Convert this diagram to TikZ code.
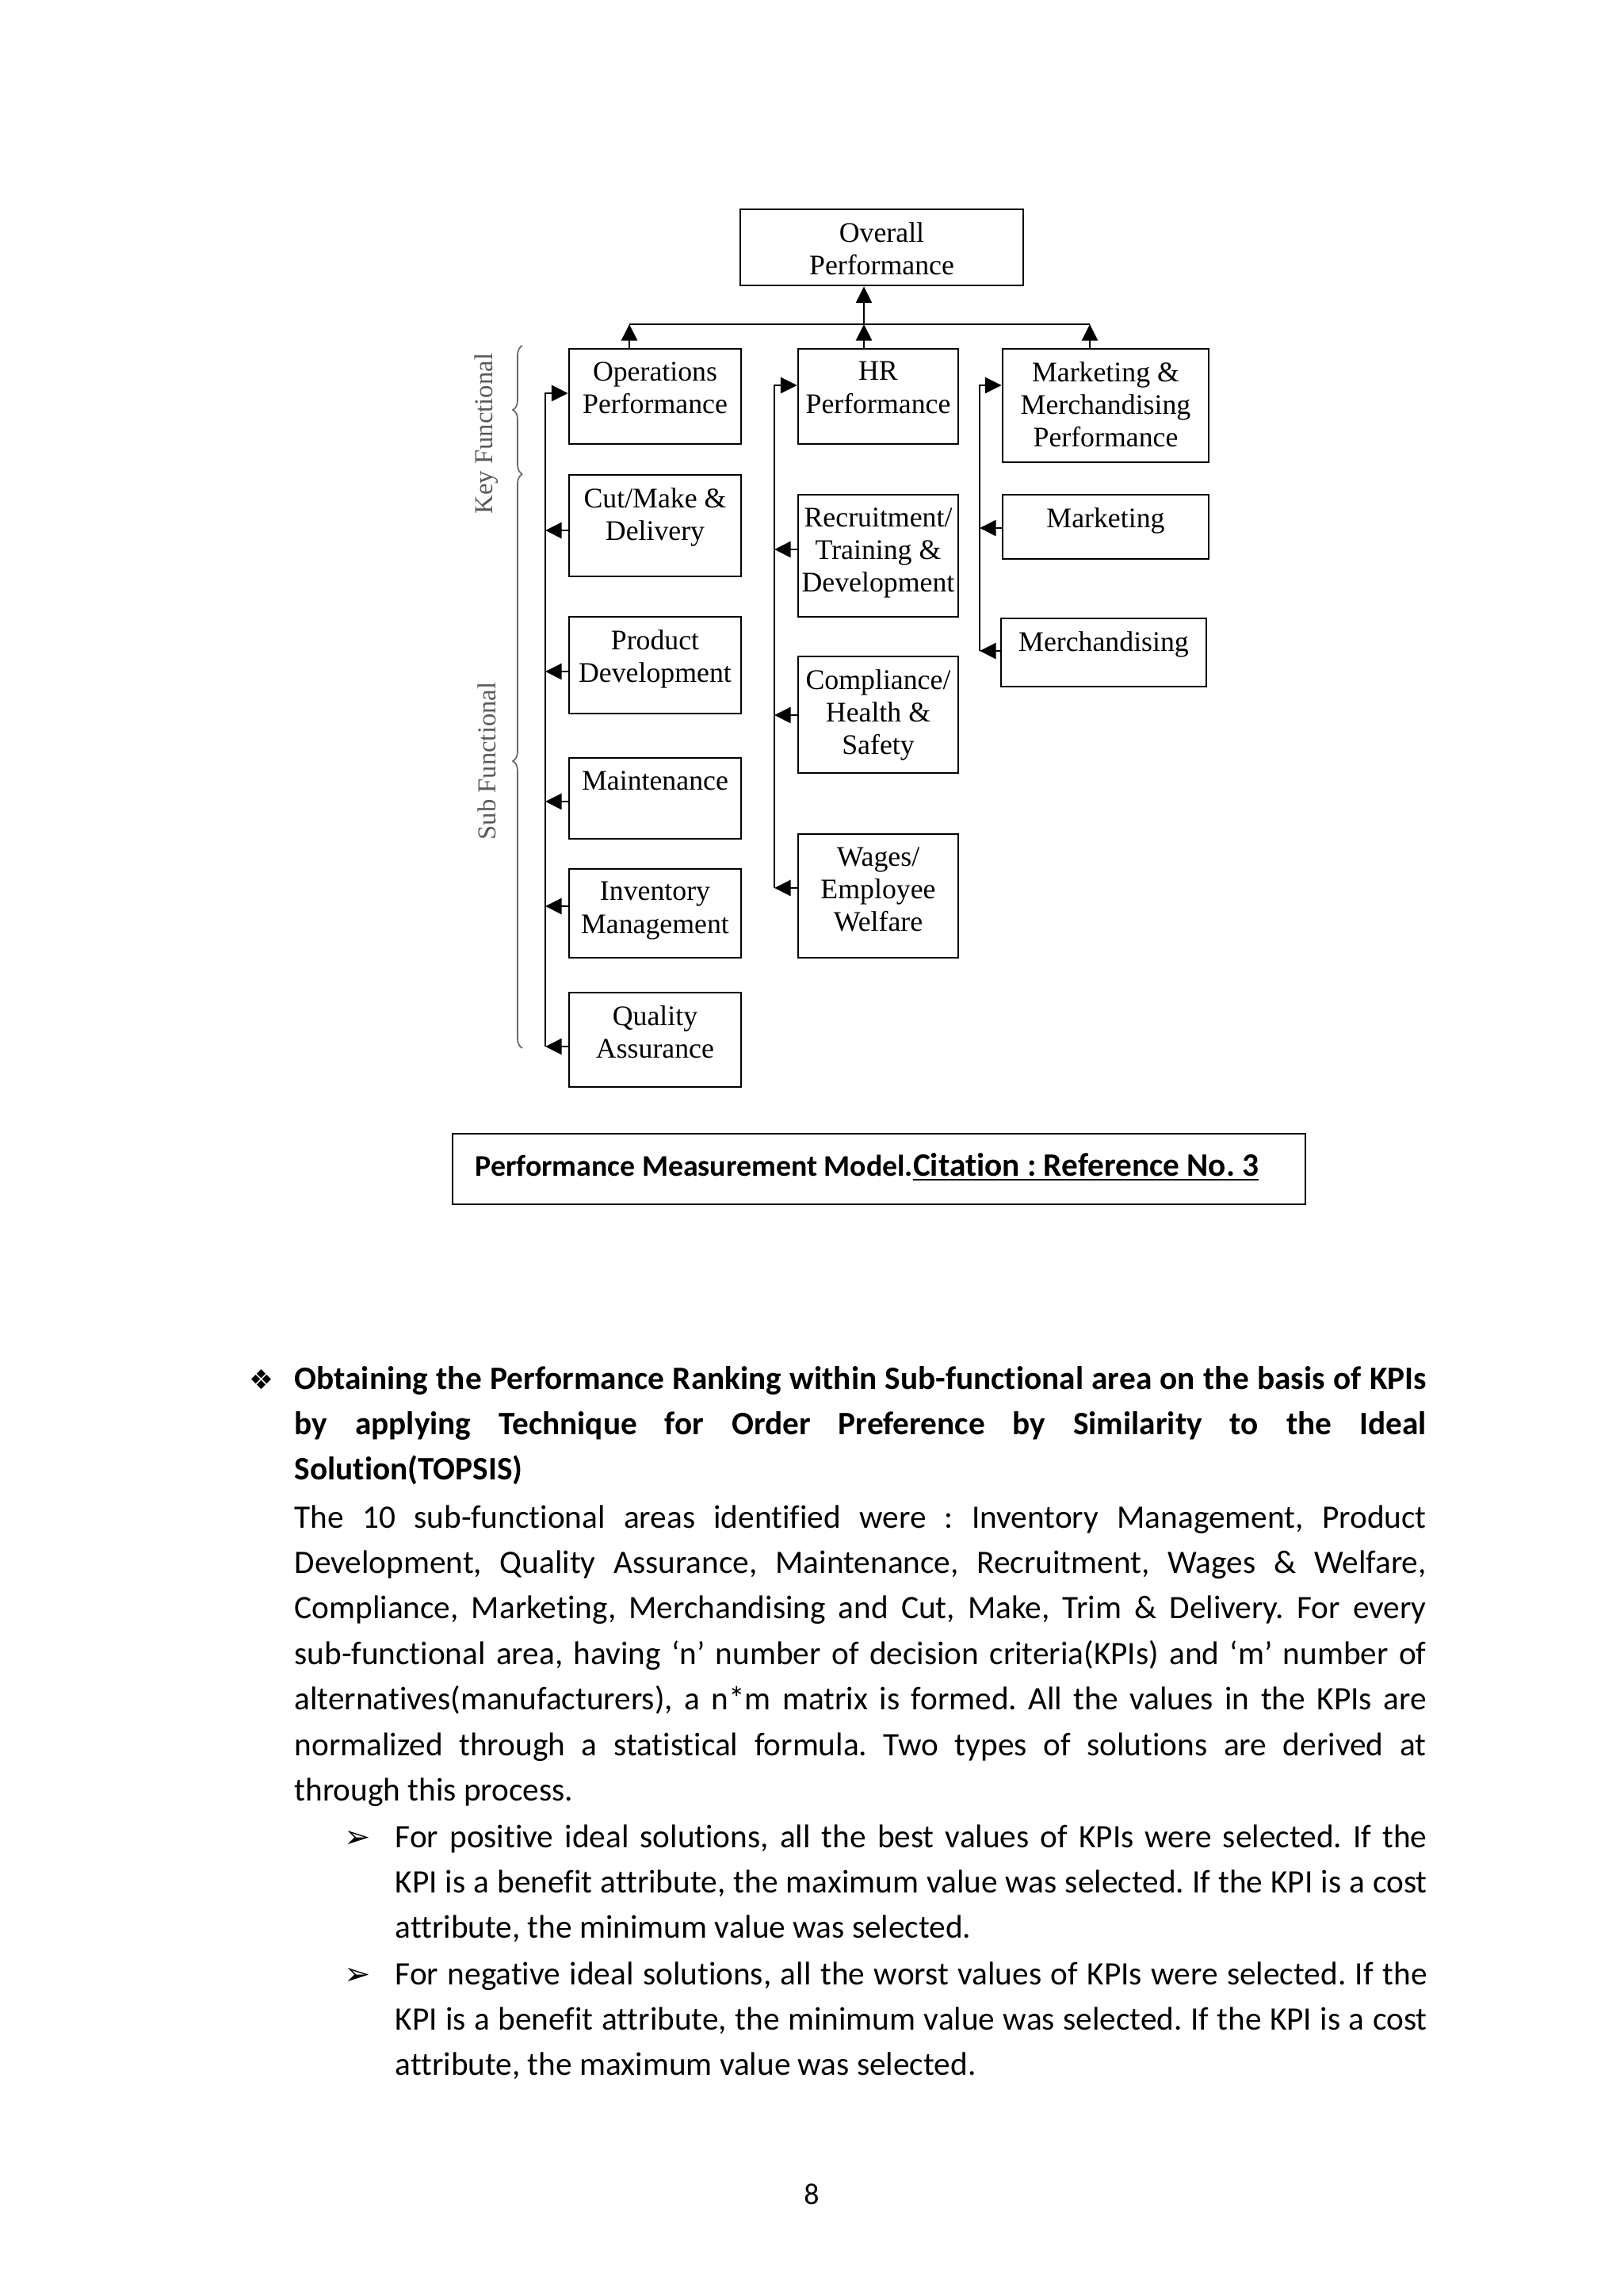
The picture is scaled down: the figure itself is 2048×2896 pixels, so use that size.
\documentclass[tikz,border=0pt]{standalone}
\usepackage{fontspec}
\setmainfont{Carlito}[Ligatures={NoCommon}]
\newfontfamily\tnr{Liberation Serif}[Ligatures={NoCommon}]
\newfontfamily\djv{DejaVu Sans}
\usetikzlibrary{arrows.meta,fit,decorations.pathreplacing,calc}
\newdimen\px \px=0.29066pt
\frenchspacing
\begin{document}
\begin{tikzpicture}[x=0.29066pt,y=-0.29066pt,
  box/.style={draw, line width=0.8pt, inner sep=0pt},
  lbl/.style={font=\tnr\fontsize{10.4pt}{12pt}\selectfont, align=center, inner sep=0pt, anchor=north},
  arr/.style={line width=0.8pt, -{Triangle[length=6pt,width=5.8pt]}},
  ln/.style={line width=0.8pt},
  side/.style={font=\tnr\fontsize{9.5pt}{11pt}\selectfont, text=black!65, inner sep=0pt, rotate=90},
  brc/.style={draw=black!60, line width=0.5pt, decorate, decoration={brace, amplitude=3.5pt}},
  body/.style={font=\fontsize{12pt}{16.7pt}\selectfont, align=justify, inner sep=0pt, anchor=base west},
  bul/.style={font=\djv\fontsize{10pt}{12pt}\selectfont, inner sep=0pt, anchor=base},
]
\fill[white] (0,0) rectangle (2048,2896);
\useasboundingbox (0,0) rectangle (2048,2896);

% ---------- boxes ----------
\node[box, fit={(934,264) (1291,360)}] (overall) {};
\node[box, fit={(718,440) (935,560)}] (ops) {};
\node[box, fit={(1007,440) (1209,560)}] (hr) {};
\node[box, fit={(1265,440) (1525,583)}] (mkt) {};
\node[box, fit={(718,599) (935,727)}] (cut) {};
\node[box, fit={(1007,624) (1209,778)}] (rec) {};
\node[box, fit={(1265,624) (1525,705)}] (marketing) {};
\node[box, fit={(1263,780) (1522,866)}] (merch) {};
\node[box, fit={(718,778) (935,900)}] (prod) {};
\node[box, fit={(1007,828) (1209,975)}] (comp) {};
\node[box, fit={(718,956) (935,1058)}] (maint) {};
\node[box, fit={(1007,1052) (1209,1208)}] (wages) {};
\node[box, fit={(718,1096) (935,1208)}] (inv) {};
\node[box, fit={(718,1252) (935,1371)}] (qual) {};

% ---------- labels ----------
\node[lbl] (overallL) at ([yshift=-5pt]overall.north) {Overall\\Performance};
\node[lbl] (opsL) at ([yshift=-5pt]ops.north) {Operations\\Performance};
\node[lbl] (hrL) at ([yshift=-5pt]hr.north) {HR\\Performance};
\node[lbl] (mktL) at ([yshift=-5pt]mkt.north) {Marketing \&\\Merchandising\\Performance};
\node[lbl] (cutL) at ([yshift=-5pt]cut.north) {Cut/Make \&\\Delivery};
\node[lbl] (recL) at ([yshift=-5pt]rec.north) {Recruitment/\\Training \&\\Development};
\node[lbl] (marketingL) at ([yshift=-5pt]marketing.north) {Marketing};
\node[lbl] (merchL) at ([yshift=-5pt]merch.north) {Merchandising};
\node[lbl] (prodL) at ([yshift=-5pt]prod.north) {Product\\Development};
\node[lbl] (compL) at ([yshift=-5pt]comp.north) {Compliance/\\Health \&\\Safety};
\node[lbl] (maintL) at ([yshift=-5pt]maint.north) {Maintenance};
\node[lbl] (wagesL) at ([yshift=-5pt]wages.north) {Wages/\\Employee\\Welfare};
\node[lbl] (invL) at ([yshift=-5pt]inv.north) {Inventory\\Management};
\node[lbl] (qualL) at ([yshift=-5pt]qual.north) {Quality\\Assurance};

% ---------- top bus ----------
\coordinate (busL) at (794,409);
\coordinate (busC) at (1090,409);
\coordinate (busR) at (1375,409);
\draw[ln] (busL) -- (busR);
\draw[arr] (busC) -- (busC |- overall.south);
\draw[arr] (busL |- ops.north) -- (busL);
\draw[arr] (busC |- hr.north) -- (busC);
\draw[arr] (busR |- mkt.north) -- (busR);

% ---------- operations column ----------
\coordinate (ot) at (688,496);
\coordinate (ob) at (688,1320);
\draw[arr] (ob) -- (ot) -- (ot -| ops.west);
\coordinate (o1) at (688,669);
\coordinate (o2) at (688,847);
\coordinate (o3) at (688,1011);
\coordinate (o4) at (688,1143);
\draw[arr] (o1 -| cut.west) -- (o1);
\draw[arr] (o2 -| prod.west) -- (o2);
\draw[arr] (o3 -| maint.west) -- (o3);
\draw[arr] (o4 -| inv.west) -- (o4);
\draw[arr] (ob -| qual.west) -- (ob);

% ---------- HR column ----------
\coordinate (ht) at (977,486);
\coordinate (hb) at (977,1120);
\draw[arr] (hb) -- (ht) -- (ht -| hr.west);
\coordinate (h1) at (977,693);
\coordinate (h2) at (977,902);
\draw[arr] (h1 -| rec.west) -- (h1);
\draw[arr] (h2 -| comp.west) -- (h2);
\draw[arr] (hb -| wages.west) -- (hb);

% ---------- marketing column ----------
\coordinate (mt) at (1236,486);
\coordinate (mb) at (1236,821);
\draw[arr] (mb) -- (mt) -- (mt -| mkt.west);
\coordinate (m1) at (1236,666);
\draw[arr] (m1 -| marketing.west) -- (m1);
\draw[arr] (mb -| merch.west) -- (mb);

% ---------- braces and side labels ----------
\coordinate (kb) at (659,598);
\coordinate (kt) at (659,436);
\coordinate (sb) at (659,1322);
\draw[brc] (kb) -- (kt);
\draw[brc] (sb) -- (kb);
\node[side] (keyL) at (614,547) {Key Functional};
\node[side] (subL) at (614,960) {Sub Functional};

% ---------- caption ----------
\node[draw, line width=0.5pt, inner sep=0pt, fit={(571,1430) (1647,1519)}] (cap) {};
\node[anchor=base west, inner sep=0pt, font=\bfseries] (capT) at (599,1483) {\fontsize{11pt}{13pt}\selectfont Performance Measurement Model.\fontsize{12pt}{14pt}\selectfont\underline{Citation : Reference No. 3}};

% ---------- body text ----------
\node[bul] (b0) at (330,1752) {❖};
\node[body, text width=1428\px] (head) at (371,1752) {\tolerance=10000\hyphenpenalty=10000\exhyphenpenalty=10000\bfseries Obtaining the Performance Ranking within Sub-functional area on the basis of KPIs\linebreak by applying Technique for Order Preference by Similarity to the Ideal\linebreak Solution(TOPSIS)};
\node[body, text width=1428\px] (para) at (371,1927) {\tolerance=10000\hyphenpenalty=10000\exhyphenpenalty=10000 The 10 sub-functional areas identified were : Inventory Management, Product\linebreak Development, Quality Assurance, Maintenance, Recruitment, Wages \& Welfare,\linebreak Compliance, Marketing, Merchandising and Cut, Make, Trim \& Delivery. For every\linebreak sub-functional area, having ‘n’ number of decision criteria(KPIs) and ‘m’ number of\linebreak alternatives(manufacturers), a n*m matrix is formed. All the values in the KPIs are\linebreak normalized through a statistical formula. Two types of solutions are derived at\linebreak through this process.};
\node[bul, font=\djv\fontsize{11.5pt}{12pt}\selectfont] (b1) at (451,2330) {➢};
\node[body, text width=1302\px] (pos) at (498,2330) {\tolerance=10000\hyphenpenalty=10000\exhyphenpenalty=10000 For positive ideal solutions, all the best values of KPIs were selected. If the\linebreak KPI is a benefit attribute, the maximum value was selected. If the KPI is a cost\linebreak attribute, the minimum value was selected.};
\node[bul, font=\djv\fontsize{11.5pt}{12pt}\selectfont] (b2) at (451,2503) {➢};
\node[body, text width=1302\px] (neg) at (498,2503) {\tolerance=10000\hyphenpenalty=10000\exhyphenpenalty=10000 For negative ideal solutions, all the worst values of KPIs were selected. If the\linebreak KPI is a benefit attribute, the minimum value was selected. If the KPI is a cost\linebreak attribute, the maximum value was selected.};
\node[anchor=base, inner sep=0pt, font=\fontsize{11pt}{13pt}\selectfont] (pg) at (1024,2780) {8};
\end{tikzpicture}
\end{document}
